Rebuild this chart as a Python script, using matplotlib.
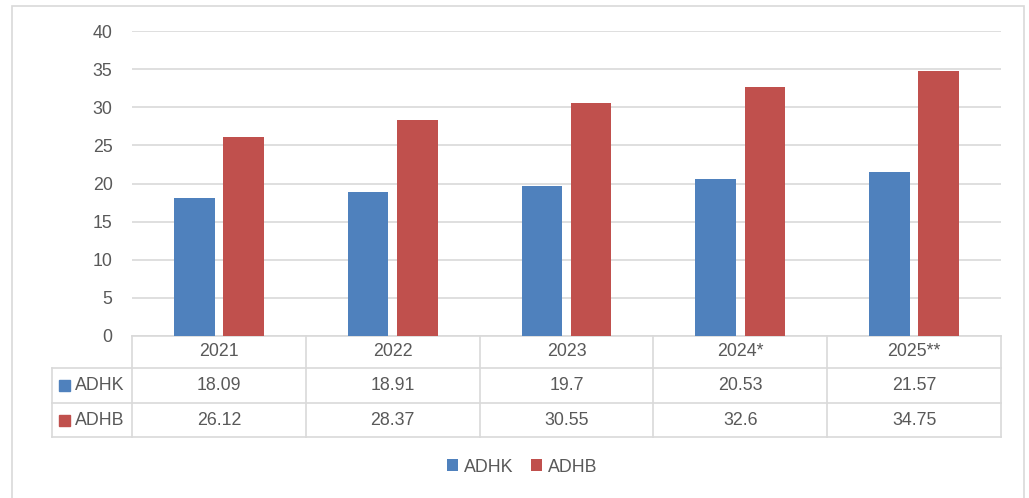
import matplotlib
matplotlib.use("Agg")
import matplotlib.pyplot as plt
from matplotlib.patches import Rectangle
from matplotlib.lines import Line2D
import matplotlib.transforms as mtransforms
import numpy as np

# ---- data ----
categories = ["2021", "2022", "2023", "2024*", "2025**"]
series_names = ["ADHK", "ADHB"]
adhk = [18.09, 18.91, 19.7, 20.53, 21.57]
adhb = [26.12, 28.37, 30.55, 32.6, 34.75]
adhk_labels = ["18.09", "18.91", "19.7", "20.53", "21.57"]
adhb_labels = ["26.12", "28.37", "30.55", "32.6", "34.75"]
yticks = [0, 5, 10, 15, 20, 25, 30, 35, 40]

# ---- style ----
BLUE = "#4F81BD"
RED = "#C0504D"
TXT = "#595959"
GRID = "#D9D9D9"
FONT = "Liberation Sans"
FS = 12.8

plt.rcParams["font.family"] = [FONT, "DejaVu Sans"]

W, H = 1029, 498
fig = plt.figure(figsize=(W / 100, H / 100), dpi=100)


def fx(px):
    return px / W


def fy(py):
    return 1 - py / H


# outer chart border
fig.add_artist(Rectangle((fx(12), fy(505)), fx(1024) - fx(12), fy(6) - fy(505),
                         transform=fig.transFigure, fill=False, edgecolor=GRID, lw=1.2))

L, R, T, B = 132, 1001, 31, 336
ax = fig.add_axes([fx(L), fy(B), fx(R) - fx(L), fy(T) - fy(B)])
x = np.arange(len(categories))
bw = 0.233
off = 0.1415
ax.bar(x - off, adhk, bw, color=BLUE, zorder=3, label=series_names[0])
ax.bar(x + off, adhb, bw, color=RED, zorder=3, label=series_names[1])
ax.set_xlim(-0.5, len(categories) - 0.5)
ax.set_ylim(0, 40)
ax.set_yticks(yticks)
ax.set_yticklabels([str(v) for v in yticks], color=TXT, fontsize=FS)
ax.tick_params(axis="y", length=0, pad=14)
ax.set_xticks([])
ax.yaxis.grid(True, color=GRID, lw=1.2, zorder=0)
for s in ["left", "right", "top"]:
    ax.spines[s].set_visible(False)
ax.spines["bottom"].set_color(GRID)
ax.spines["bottom"].set_linewidth(1.2)

# ---- data table ----
bt = mtransforms.blended_transform_factory(ax.transData, fig.transFigure)
row_y = [336, 367.7, 402.7, 437.3]
for b in np.arange(-0.5, len(categories), 1.0):
    fig.add_artist(Line2D([b, b], [fy(row_y[0]), fy(row_y[3])], transform=bt,
                          color=GRID, lw=1.2))
fig.add_artist(Line2D([fx(52), fx(52)], [fy(row_y[1]), fy(row_y[3])],
                      transform=fig.transFigure, color=GRID, lw=1.2))
for yy in row_y[1:]:
    fig.add_artist(Line2D([fx(52), fx(R)], [fy(yy), fy(yy)],
                          transform=fig.transFigure, color=GRID, lw=1.2))

row_centers = [(row_y[i] + row_y[i + 1]) / 2 for i in range(3)]
for i, c in enumerate(categories):
    fig.text(x[i], fy(row_centers[0]), c, transform=bt, ha="center", va="center",
             color=TXT, fontsize=FS)
    fig.text(x[i], fy(row_centers[1]), adhk_labels[i], transform=bt, ha="center",
             va="center", color=TXT, fontsize=FS)
    fig.text(x[i], fy(row_centers[2]), adhb_labels[i], transform=bt, ha="center",
             va="center", color=TXT, fontsize=FS)

for name, col, rc in [(series_names[0], BLUE, row_centers[1]), (series_names[1], RED, row_centers[2])]:
    fig.add_artist(Rectangle((fx(58.5), fy(rc + 6)), fx(11.5), 11.5 / H,
                             transform=fig.transFigure, color=col))
    fig.text(fx(74.5), fy(rc), name, ha="left", va="center", color=TXT, fontsize=FS)

# ---- legend ----
handles, labels = ax.get_legend_handles_labels()
fig.legend(handles, labels, loc="center", bbox_to_anchor=(fx(522), fy(467)),
           ncol=2, frameon=False, handlelength=0.65, handleheight=0.65,
           handletextpad=0.3, columnspacing=1.0, fontsize=FS, labelcolor=TXT)

fig.savefig("out.png", dpi=100, facecolor="white")
